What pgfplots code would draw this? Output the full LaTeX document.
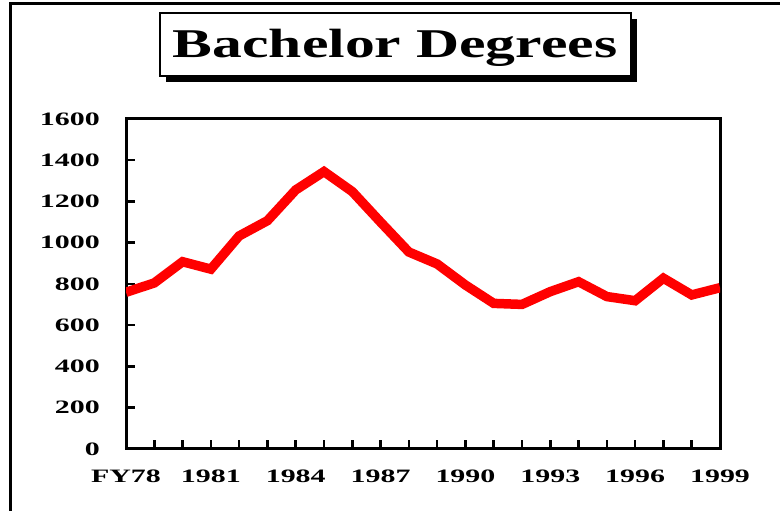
\documentclass[border=0pt]{standalone}
\usepackage{fontspec}
\usepackage{pgfplots}
\pgfplotsset{compat=1.18}
\setmainfont{Liberation Serif}
\newfontfamily\tickfont{Liberation Serif Bold}[FakeStretch=1.58]
\newfontfamily\titlefont{Liberation Serif Bold}[FakeStretch=1.46]
\begin{document}
\begin{tikzpicture}[x=1bp,y=1bp]
% outer frame (cut by the page edges)
\draw[line width=3bp] (10,-20) -- (10,507.5) -- (800,507.5);
% title box with shadow
\fill[black] (166,429) rectangle (637,492);
\draw[line width=2bp,fill=white] (160,435) rectangle (631,498);
\node[inner sep=0pt, anchor=base] at (395,453) {\titlefont\fontsize{41}{41}\selectfont Bachelor Degrees};
\begin{axis}[
  at={(126bp,62bp)}, anchor=south west,
  scale only axis, width=594bp, height=330bp,
  xmin=0, xmax=21, ymin=0, ymax=1600,
  axis line style={line width=3bp},
  xtick={0,...,21},
  xticklabels={FY78,,,1981,,,1984,,,1987,,,1990,,,1993,,,1996,,,1999},
  ytick={0,200,...,1600},
  xtick pos=bottom, ytick pos=left,
  tick align=inside,
  major tick length=9bp,
  every tick/.style={black, line width=2.5bp},
  /pgf/number format/assume math mode=true,
  /pgf/number format/1000 sep={},
  ticklabel style={font=\tickfont\fontsize{19}{19}\selectfont, inner sep=0pt},
  yticklabel style={anchor=east, xshift=-26bp},
  xticklabel style={anchor=north, yshift=-21bp},
  clip=true,
]
\addplot[color={rgb,255:red,255;green,0;blue,0}, line width=9.5bp, line join=miter] coordinates {
(0,760) (1,805) (2,908) (3,872) (4,1033) (5,1107) (6,1256) (7,1345) (8,1248) (9,1100) (10,955)
(11,897) (12,795) (13,706) (14,701) (15,763) (16,811) (17,739) (18,719) (19,828) (20,747) (21,782)
};
\end{axis}
\pgfresetboundingbox
\path[use as bounding box] (0,0) rectangle (780,511);
\end{tikzpicture}
\end{document}
